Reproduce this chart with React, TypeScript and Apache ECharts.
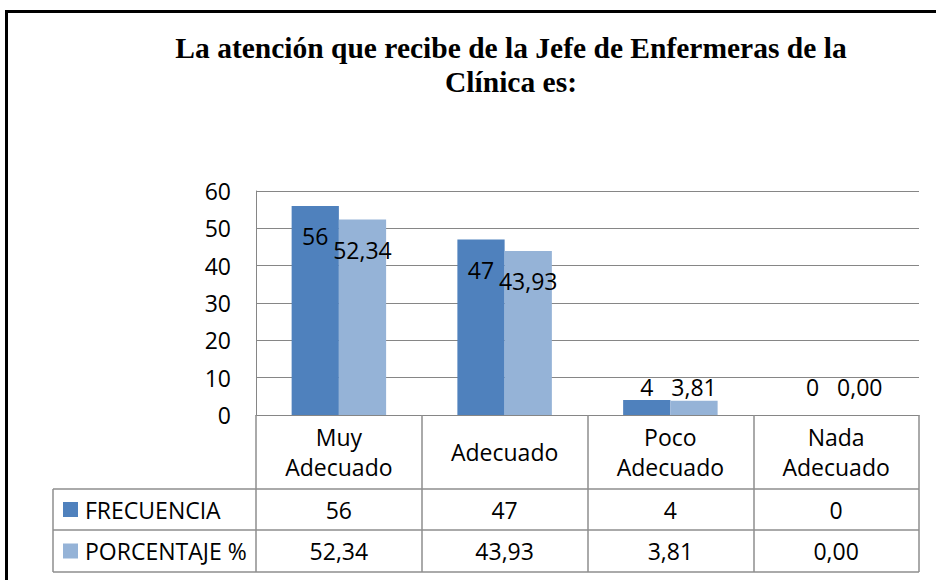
import React, { useEffect, useRef } from 'react';
import * as echarts from 'echarts';

const titleLines = ['La atención que recibe de la Jefe de Enfermeras de la', 'Clínica es:'];
const categories = ['Muy\nAdecuado', 'Adecuado', 'Poco\nAdecuado', 'Nada\nAdecuado'];
const seriesNames = ['FRECUENCIA', 'PORCENTAJE %'];
const frecuencia = [56, 47, 4, 0];
const porcentaje = [52.34, 43.93, 3.81, 0.0];
const yMin = 0;
const yMax = 60;
const yStep = 10;

const seriesValues = [frecuencia, porcentaje];
const formatters = [
  (v: number) => String(v),
  (v: number) => v.toFixed(2).replace('.', ','),
];
const colors = ['#4F81BD', '#95B3D7'];
const gridColor = '#868686';
const tableColor = '#8e8e8e';
const FONT = '"Open Sans", "DejaVu Sans", sans-serif';
const FS = 23;

const W = 936;
const H = 580;
const G = { left: 256, right: 919, top: 191, bottom: 415 };
const tableLeft = 53;
const headerBottom = 489;
const rowBottoms = [530, 572];

export default function App() {
  const ref = useRef<HTMLDivElement>(null);

  useEffect(() => {
    if (!ref.current) return;
    const chart = echarts.init(ref.current, undefined, { renderer: 'svg' });
    const pxPerUnit = (G.bottom - G.top) / (yMax - yMin);
    const labelOffset = (v: number) => {
      const h = v * pxPerUnit;
      return h >= 45 ? 30 : h - 28;
    };
    const colW = (G.right - G.left) / categories.length;
    const rowTops = [headerBottom, rowBottoms[0]];

    const graphic: any[] = [];
    graphic.push({
      type: 'rect',
      shape: { x: 6.5, y: 11.5, width: 1000, height: 1000 },
      style: { fill: 'none', stroke: '#000', lineWidth: 3 },
      silent: true,
    });
    graphic.push({
      type: 'text',
      x: 511,
      y: 31,
      style: {
        text: titleLines.join('\n'),
        fill: '#000',
        fontSize: 29.5,
        fontWeight: 'bold',
        fontFamily: '"Liberation Serif", "Times New Roman", serif',
        align: 'center',
        verticalAlign: 'top',
        lineHeight: 34,
      },
    });
    [headerBottom, ...rowBottoms].forEach((y) => {
      graphic.push({
        type: 'line',
        shape: { x1: tableLeft, y1: y, x2: G.right, y2: y },
        style: { stroke: tableColor, lineWidth: 1.5 },
      });
    });
    graphic.push({
      type: 'line',
      shape: { x1: tableLeft, y1: headerBottom, x2: tableLeft, y2: rowBottoms[1] },
      style: { stroke: tableColor, lineWidth: 1.5 },
    });
    seriesNames.forEach((name, si) => {
      const cy = (rowTops[si] + rowBottoms[si]) / 2;
      graphic.push({
        type: 'rect',
        shape: { x: 63, y: cy - 7.5, width: 15, height: 15 },
        style: { fill: colors[si] },
      });
      graphic.push({
        type: 'text',
        x: 85,
        y: cy,
        style: {
          text: name,
          fill: '#000',
          fontSize: FS,
          fontFamily: FONT,
          align: 'left',
          verticalAlign: 'middle',
        },
      });
      seriesValues[si].forEach((v, ci) => {
        graphic.push({
          type: 'text',
          x: G.left + (ci + 0.5) * colW,
          y: cy,
          style: {
            text: formatters[si](v),
            fill: '#000',
            fontSize: FS,
            fontFamily: FONT,
            align: 'center',
            verticalAlign: 'middle',
          },
        });
      });
    });

    chart.setOption({
      animation: false,
      backgroundColor: '#fff',
      grid: { left: G.left, right: W - G.right, top: G.top, bottom: H - G.bottom, containLabel: false },
      xAxis: {
        type: 'category',
        data: categories,
        axisLine: { show: true, lineStyle: { color: gridColor, width: 1 } },
        axisTick: { show: true, length: rowBottoms[1] - G.bottom, lineStyle: { color: tableColor, width: 1.5 } },
        axisLabel: {
          interval: 0,
          fontSize: FS,
          fontFamily: FONT,
          color: '#000',
          lineHeight: 30,
          margin: (headerBottom - G.bottom) / 2,
          verticalAlign: 'middle',
        },
      },
      yAxis: {
        type: 'value',
        min: yMin,
        max: yMax,
        interval: yStep,
        axisLine: { show: true, lineStyle: { color: gridColor, width: 1 } },
        axisTick: { show: false },
        axisLabel: { fontSize: FS, fontFamily: FONT, color: '#000', margin: 25 },
        splitLine: { show: true, lineStyle: { color: gridColor, width: 1 } },
      },
      series: seriesNames.map((name, si) => ({
        name,
        type: 'bar',
        barGap: '0%',
        barCategoryGap: '43%',
        itemStyle: { color: colors[si] },
        label: {
          show: true,
          align: 'center',
          verticalAlign: 'middle',
          fontSize: FS,
          fontFamily: FONT,
          color: '#000',
          formatter: (p: any) => formatters[si](p.value),
        },
        data: seriesValues[si].map((v) => ({
          value: v,
          label: { position: ['50%', labelOffset(v)] },
        })),
      })),
      graphic,
    });
    return () => chart.dispose();
  }, []);

  return (
    <div
      ref={ref}
      style={{ position: 'absolute', left: 0, top: 0, width: W, height: H, background: '#fff' }}
    />
  );
}
